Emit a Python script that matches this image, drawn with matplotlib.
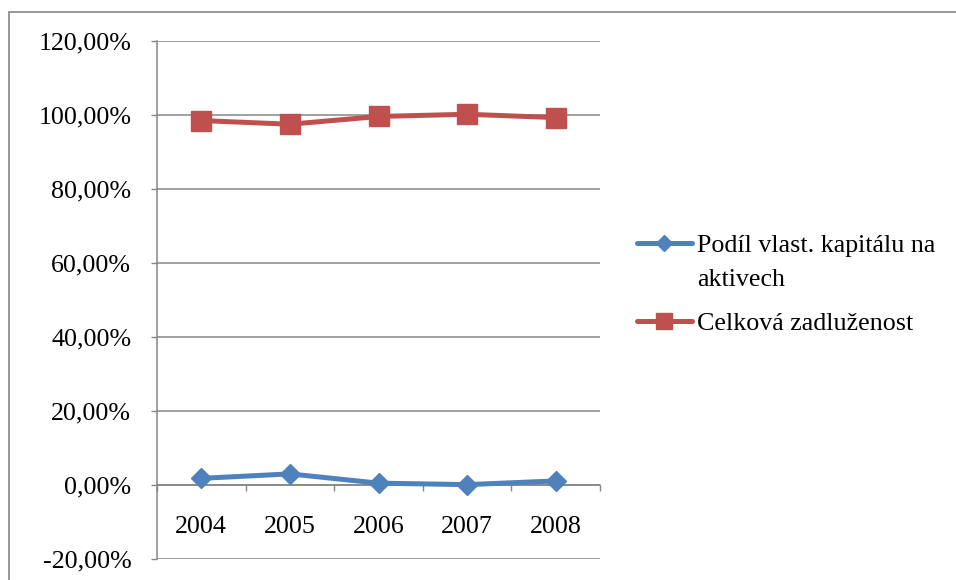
import matplotlib
matplotlib.use("Agg")
import matplotlib.pyplot as plt
from matplotlib.ticker import FuncFormatter, FixedLocator
from matplotlib.patches import Rectangle
from matplotlib.legend_handler import HandlerLine2D

# Data (shares as fractions)
years = ["2004", "2005", "2006", "2007", "2008"]
equity_ratio = [0.018, 0.030, 0.005, 0.001, 0.011]
total_debt = [0.985, 0.975, 0.996, 1.002, 0.993]
series_names = ["Podíl vlast. kapitálu na\naktivech", "Celková zadluženost"]
y_ticks = [-0.2, 0.0, 0.2, 0.4, 0.6, 0.8, 1.0, 1.2]

BLUE = "#4F81BD"
RED = "#C0504D"
GRID = "#868686"
FS = 18.7

plt.rcParams["font.family"] = ["Liberation Serif", "DejaVu Serif"]


class FirstLineHandler(HandlerLine2D):
    """Line handle aligned with the first line of a wrapped label."""

    def __init__(self, raise_pt, **kw):
        super().__init__(**kw)
        self.raise_pt = raise_pt

    def create_artists(self, legend, orig_handle, xdescent, ydescent,
                       width, height, fontsize, trans):
        return super().create_artists(legend, orig_handle, xdescent,
                                      ydescent - 2 * self.raise_pt,
                                      width, height, fontsize, trans)


W, H = 956, 580
fig = plt.figure(figsize=(W / 100, H / 100), dpi=100)
ax = fig.add_axes([157 / W, 1 - 559 / H, (600 - 157) / W, (559 - 41) / H])

x = list(range(len(years)))
l1, = ax.plot(x, equity_ratio, color=BLUE, lw=3.6, marker="D", ms=10.5,
              solid_capstyle="round", label=series_names[0], zorder=4)
l2, = ax.plot(x, total_debt, color=RED, lw=3.6, marker="s", ms=14.5,
              solid_capstyle="round", label=series_names[1], zorder=4)

ax.set_xlim(-0.5, len(years) - 0.5)
ax.set_ylim(y_ticks[0], y_ticks[-1])

# y axis
ax.yaxis.set_major_locator(FixedLocator(y_ticks))
ax.yaxis.set_major_formatter(
    FuncFormatter(lambda v, p: f"{v * 100:.2f}%".replace(".", ",")))
ax.tick_params(axis="y", direction="out", length=4.5, width=1.0,
               color=GRID, pad=14, labelsize=FS)
ax.grid(axis="y", color=GRID, lw=1.1, zorder=1)

# category axis through zero
ax.spines["bottom"].set_position(("data", 0))
for s in ("top", "right"):
    ax.spines[s].set_visible(False)
for s in ("left", "bottom"):
    ax.spines[s].set_color(GRID)
    ax.spines[s].set_linewidth(1.1)
ax.set_xticks([i - 0.5 for i in range(len(years) + 1)])
ax.set_xticklabels([])
ax.set_xticks(x, minor=True)
ax.set_xticklabels(years, minor=True)
ax.tick_params(axis="x", which="major", direction="out", length=4.5,
               width=1.0, color=GRID)
ax.tick_params(axis="x", which="minor", length=0, pad=22, labelsize=FS)
ax.set_axisbelow(True)

leg = fig.legend(loc="center left", bbox_to_anchor=(637 / W, 1 - 285 / H),
                 frameon=False, fontsize=FS, handlelength=2.1,
                 handletextpad=0.2, borderpad=0, borderaxespad=0,
                 labelspacing=0.78, markerscale=0.75,
                 handler_map={l1: FirstLineHandler(14.5)})
for t in leg.get_texts():
    t.set_linespacing(1.7)

# outer chart frame
fig.add_artist(Rectangle((8.5 / W, -0.2), 1.2, 1.2 - 12 / H,
                         transform=fig.transFigure, fill=False,
                         edgecolor=GRID, lw=1.2))

fig.savefig("out.png", dpi=100)
